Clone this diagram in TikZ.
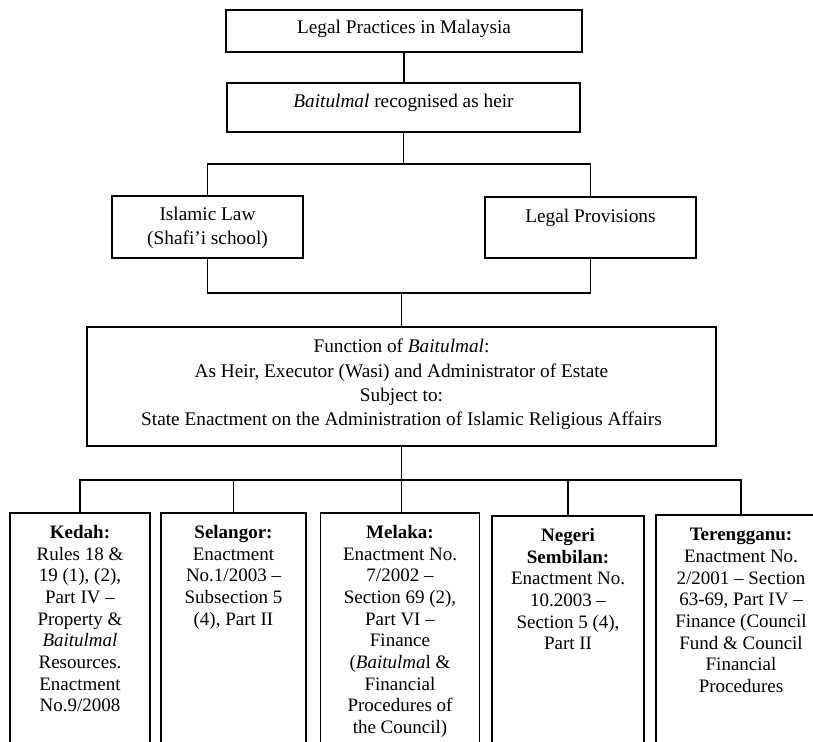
\documentclass[tikz,border=0pt]{standalone}
\usepackage{fontspec}
\setmainfont{Liberation Serif}
\begin{document}
\begin{tikzpicture}[x=1pt,y=-1pt,
  box/.style={draw, rectangle, line width=1.6pt, inner sep=0pt, outer sep=0pt},
  conn/.style={line width=1.6pt},
  lbl/.style={anchor=north, align=center, inner sep=0pt, font=\fontsize{19.3}{24.4}\selectfont},
  blbl/.style={anchor=north, align=center, inner sep=0pt, font=\fontsize{19}{21.7}\selectfont}]
\useasboundingbox (0,0) rectangle (813,741);
\clip (0,0) rectangle (813,741);
% boxes
\node[box, minimum width=356pt, minimum height=42pt] (t1) at (404,31) {};
\node[box, minimum width=353pt, minimum height=49pt] (t2) at (403.5,107.5) {};
\node[box, minimum width=191pt, minimum height=62pt] (isl) at (207.5,227) {};
\node[box, minimum width=211pt, minimum height=61pt] (lp) at (590.5,227.5) {};
\node[box, minimum width=629pt, minimum height=119pt] (fn) at (401.5,386.5) {};
\node[box, minimum width=140pt, minimum height=257pt] (ked) at (80,641.5) {};
\node[box, minimum width=145pt, minimum height=257pt] (sel) at (233.5,641.5) {};
\node[box, minimum width=159pt, minimum height=257pt] (mel) at (400,641.5) {};
\node[box, minimum width=152pt, minimum height=254pt] (neg) at (568,643) {};
\node[box, minimum width=170pt, minimum height=255pt] (ter) at (741,642.5) {};
% connectors
\draw[conn] (t1.south) -- (t1.south |- t2.north);
\path (t2.south) ++(0,32) coordinate (j1);
\draw[conn] (t2.south) -- (j1);
\draw[conn] (isl.north) |- (j1) -| (lp.north);
\path (fn.north) ++(0,-34) coordinate (j2);
\draw[conn] (isl.south) |- (j2) -| (lp.south);
\draw[conn] (j2) -- (fn.north);
\path (fn.south) ++(0,34) coordinate (j3);
\draw[conn] (fn.south) -- (fn.south |- mel.north);
\draw[conn] (ked.north) |- (j3) -| (ter.north);
\draw[conn] (sel.north) -- (sel.north |- j3);
\draw[conn] (neg.north) -- (neg.north |- j3);
% texts
\node[lbl] (t1t) at ([yshift=-10pt]t1.north) {Legal Practices in Malaysia};
\node[lbl] (t2t) at ([yshift=-11pt]t2.north) {\textit{Baitulmal} recognised as heir};
\node[lbl] (islt) at ([yshift=-11pt]isl.north) {Islamic Law\\(Shafi’i school)};
\node[lbl] (lpt) at ([yshift=-12pt]lp.north) {Legal Provisions};
\node[lbl] (fnt) at ([yshift=-12pt]fn.north) {Function of \textit{Baitulmal}:\\As Heir, Executor (Wasi) and Administrator of Estate\\Subject to:\\State Enactment on the Administration of Islamic Religious Affairs};
\node[blbl] (kedt) at ([yshift=-12pt]ked.north) {\textbf{Kedah:}\\Rules 18 \&\\19 (1), (2),\\Part IV –\\Property \&\\\textit{Baitulmal}\\Resources.\\Enactment\\No.9/2008};
\node[blbl] (selt) at ([yshift=-12pt]sel.north) {\textbf{Selangor:}\\Enactment\\No.1/2003 –\\Subsection 5\\(4), Part II};
\node[blbl] (melt) at ([yshift=-12pt]mel.north) {\textbf{Melaka:}\\Enactment No.\\7/2002 –\\Section 69 (2),\\Part VI –\\Finance\\(\textit{Baitulma}l \&\\Financial\\Procedures of\\the Council)};
\node[blbl] (negt) at ([yshift=-12pt]neg.north) {\textbf{Negeri}\\\textbf{Sembilan:}\\Enactment No.\\10.2003 –\\Section 5 (4),\\Part II};
\node[blbl] (tert) at ([yshift=-13pt]ter.north) {\textbf{Terengganu:}\\Enactment No.\\2/2001 – Section\\63-69, Part IV –\\Finance (Council\\Fund \& Council\\Financial\\Procedures};
\end{tikzpicture}
\end{document}
